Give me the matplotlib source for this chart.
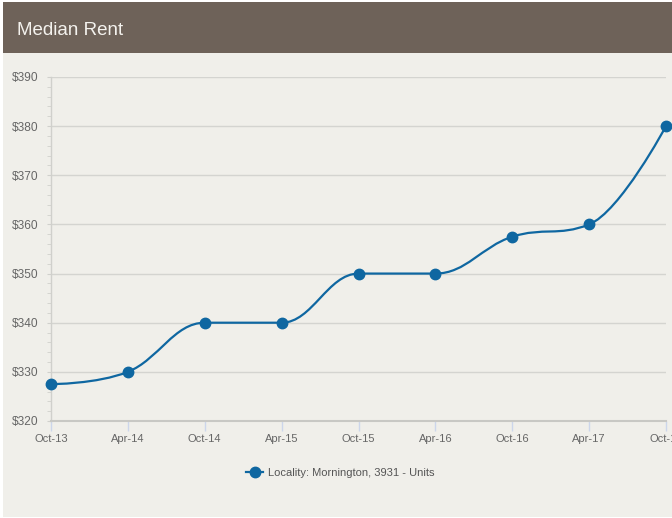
import numpy as np
import matplotlib.pyplot as plt
from matplotlib.path import Path
from matplotlib.patches import PathPatch, Rectangle
from matplotlib.lines import Line2D

plt.rcParams['font.family'] = ['Liberation Sans', 'DejaVu Sans']

periodi = ['Oct-13', 'Apr-14', 'Oct-14', 'Apr-15', 'Oct-15', 'Apr-16', 'Oct-16', 'Apr-17', 'Oct-17']
affitto = [327.5, 330, 340, 340, 350, 350, 357.5, 360, 380]
serie = 'Locality: Mornington, 3931 - Units'

blu = '#0f67a1'
sfondo = '#f0efea'


def punti_spline(xs, ys, smoothing=1.5):
    # curva tipo spline "smussata": controlli calcolati dai vicini
    denom = smoothing + 1
    n = len(xs)
    cont = [None] * n
    for i in range(1, n - 1):
        px, py = xs[i], ys[i]
        lx, ly = xs[i - 1], ys[i - 1]
        nx, ny = xs[i + 1], ys[i + 1]
        lcx = (smoothing * px + lx) / denom
        lcy = (smoothing * py + ly) / denom
        rcx = (smoothing * px + nx) / denom
        rcy = (smoothing * py + ny) / denom
        corr = (rcy - lcy) * (rcx - px) / (rcx - lcx) + py - rcy
        lcy += corr
        rcy += corr
        if lcy > ly and lcy > py:
            lcy = max(ly, py); rcy = 2 * py - lcy
        elif lcy < ly and lcy < py:
            lcy = min(ly, py); rcy = 2 * py - lcy
        if rcy > ny and rcy > py:
            rcy = max(ny, py); lcy = 2 * py - rcy
        elif rcy < ny and rcy < py:
            rcy = min(ny, py); lcy = 2 * py - rcy
        cont[i] = (lcx, lcy, rcx, rcy)
    verts = [(xs[0], ys[0])]
    codes = [Path.MOVETO]
    for i in range(1, n):
        if cont[i - 1] is None:
            c1 = (xs[i - 1], ys[i - 1])
        else:
            c1 = (cont[i - 1][2], cont[i - 1][3])
        if cont[i] is None:
            c2 = (xs[i], ys[i])
        else:
            c2 = (cont[i][0], cont[i][1])
        verts += [c1, c2, (xs[i], ys[i])]
        codes += [Path.CURVE4] * 3
    return Path(verts, codes)


fig = plt.figure(figsize=(6.72, 5.18), dpi=100)
fig.patch.set_facecolor('white')
fig.add_artist(Rectangle((3 / 672, 1 / 518), 669 / 672, 515 / 518, transform=fig.transFigure,
                         facecolor=sfondo, edgecolor='none', zorder=0))
# barra del titolo
fig.add_artist(Rectangle((3 / 672, (518 - 53) / 518), 669 / 672, 51 / 518, transform=fig.transFigure,
                         facecolor='#6e6259', edgecolor='none', zorder=1))
fig.text(17 / 672, (518 - 35) / 518, 'Median Rent', color='#f4f2ee', fontsize=13.5,
         va='baseline', ha='left', zorder=2)

ax = fig.add_axes([51 / 672, 97 / 518, 615 / 672, 344 / 518])
ax.set_facecolor('none')

x = np.arange(len(periodi))
ax.add_patch(PathPatch(punti_spline(x, affitto), facecolor='none', edgecolor=blu, lw=1.6,
                       clip_on=False, zorder=3))
ax.plot(x, affitto, 'o', color=blu, markersize=7.5, clip_on=False, zorder=4)

ax.set_xlim(0, 8)
ax.set_ylim(320, 390)
ax.set_yticks(np.arange(320, 391, 10))
ax.set_yticks(np.arange(320, 391, 2), minor=True)
ax.set_yticklabels(['$%d' % v for v in range(320, 391, 10)])
ax.set_xticks(x)
ax.set_xticklabels(periodi)

ax.grid(axis='y', color='#d4d4d0', lw=1)
ax.set_axisbelow(True)
for s in ['top', 'right']:
    ax.spines[s].set_visible(False)
ax.spines['left'].set_color('#d0d0cc')
ax.spines['left'].set_linewidth(1)
ax.spines['bottom'].set_color('#c8c8c4')
ax.spines['bottom'].set_linewidth(1.5)

ax.tick_params(axis='x', length=7.5, color='#ccd6eb', width=1, labelsize=8, labelcolor='#666666', pad=2)
ax.tick_params(axis='y', which='major', length=3, color='#d0d0cc', labelsize=8.6, labelcolor='#666666', pad=6)
ax.tick_params(axis='y', which='minor', length=3, color='#d0d0cc')

maniglia = Line2D([], [], color=blu, lw=1.6, marker='o', markersize=7.5)
fig.legend([maniglia], [serie], loc='center', bbox_to_anchor=(340 / 672, (518 - 473) / 518),
           frameon=False, fontsize=8, labelcolor='#555555', handlelength=1.6, handletextpad=0.4)

plt.savefig('out.png', dpi=100, facecolor=fig.get_facecolor())
